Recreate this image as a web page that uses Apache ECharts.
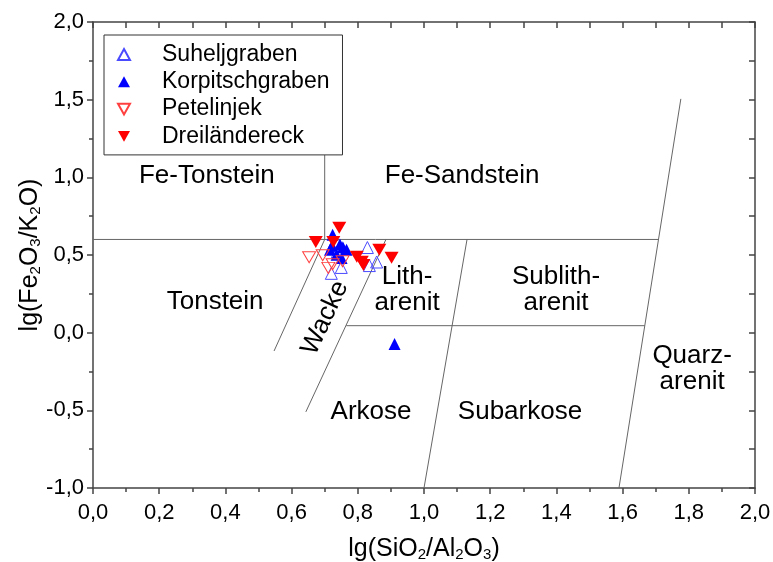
<!DOCTYPE html>
<html>
<head>
<meta charset="utf-8">
<script src="https://cdn.jsdelivr.net/npm/echarts@6/dist/echarts.min.js"></script>
<style>
html,body{margin:0;padding:0;background:#fff;}
#chart{width:773px;height:562px;}
</style>
</head>
<body>
<div id="chart"></div>
<script>
// ---- sample data (x = lg(SiO2/Al2O3), y = lg(Fe2O3/K2O)) ----
const suheljgraben = [[0.829,0.548],[0.857,0.455],[0.835,0.432],[0.720,0.382],[0.750,0.420],[0.738,0.520]];
const korpitschgraben = [[0.724,0.631],[0.716,0.534],[0.746,0.567],[0.766,0.534],[0.736,0.502],[0.751,0.481],[0.722,0.560],[0.755,0.550],[0.911,-0.073]];
const petelinjek = [[0.653,0.485],[0.694,0.498],[0.711,0.417],[0.754,0.460],[0.724,0.440]];
const dreilaendereck = [[0.744,0.675],[0.673,0.584],[0.726,0.584],[0.797,0.489],[0.812,0.457],[0.817,0.436],[0.865,0.533],[0.902,0.483]];

// ---- classification field boundaries (Herron 1988) ----
const lineFeSplit = [[0,0.6],[1.708,0.6]];
const lineFeVertical = [[0.70,0.6],[0.70,1.2]];
const lineWackeLeft = [[0.547,-0.118],[0.70,0.6]];
const lineWackeRight = [[0.643,-0.51],[0.885,0.6]];
const lineArkoseSplit = [[0.765,0.045],[1.667,0.045]];
const lineSubarkose = [[1.0,-1.0],[1.13,0.6]];
const lineQuarz = [[1.589,-1.0],[1.776,1.505]];
const boundaryLines = [lineFeSplit,lineFeVertical,lineWackeLeft,lineWackeRight,lineArkoseSplit,lineSubarkose,lineQuarz];

// ---- field labels ----
const fieldNames = ['Fe-Tonstein','Fe-Sandstein','Tonstein','Wacke','Lith-\narenit','Sublith-\narenit','Arkose','Subarkose','Quarz-\narenit'];
const fieldX = [0.344,1.115,0.369,0.701,0.949,1.399,0.840,1.290,1.810];
const fieldY = [1.010,1.010,0.197,0.095,0.275,0.275,-0.510,-0.510,-0.235];
const fieldRotate = [0,0,0,65,0,0,0,0,0];

// ---- axis ----
const xMin = 0, xMax = 2, xStep = 0.2;
const yMin = -1, yMax = 2, yStep = 0.5;

const fmt = v => v.toFixed(1).replace('.', ',');
const FONT = 'Liberation Sans, Arial, sans-serif';
const axisColor = '#444';

const downTri = 'path://M0,0 L10,0 L5,9 Z';

const series = [];
boundaryLines.forEach(seg => {
  series.push({
    type: 'line', data: seg, symbol: 'none', silent: true,
    lineStyle: {color: '#666', width: 1}, z: 1, legendHoverLink: false
  });
});
series.push({
  type: 'scatter', silent: true, symbolSize: 1, itemStyle: {color: 'rgba(0,0,0,0)', opacity: 1}, z: 2,
  data: fieldNames.map((n, i) => ({
    name: n, value: [fieldX[i], fieldY[i]],
    label: {rotate: fieldRotate[i]}
  })),
  label: {show: true, position: 'inside', formatter: '{b}', fontSize: 26, lineHeight: 26,
    color: '#000', opacity: 1, fontFamily: FONT, align: 'center', verticalAlign: 'middle'}
});
series.push({
  name: 'Suheljgraben', type: 'scatter', data: suheljgraben, symbol: 'triangle', symbolSize: 12, z: 3,
  itemStyle: {color: 'rgba(255,255,255,0)', borderColor: '#4a4aff', borderWidth: 1, opacity: 1}
});
series.push({
  name: 'Korpitschgraben', type: 'scatter', data: korpitschgraben, symbol: 'triangle', symbolSize: 12, z: 4,
  itemStyle: {color: '#0000ff', opacity: 1}
});
series.push({
  name: 'Petelinjek', type: 'scatter', data: petelinjek, symbol: downTri, symbolSize: [13,11], z: 5,
  itemStyle: {color: 'rgba(255,255,255,0)', borderColor: '#ff4040', borderWidth: 1, opacity: 1}
});
series.push({
  name: 'Dreiländereck', type: 'scatter', data: dreilaendereck, symbol: downTri, symbolSize: [14,12], z: 6,
  itemStyle: {color: '#ff0000', opacity: 1}
});

const nameRich = {
  n: {fontSize: 25, fontFamily: FONT, color: '#000', lineHeight: 28, verticalAlign: 'bottom'},
  s: {fontSize: 15, fontFamily: FONT, color: '#000', lineHeight: 12, verticalAlign: 'bottom'}
};

const chart = echarts.init(document.getElementById('chart'), null, {renderer: 'canvas'});
chart.setOption({
  animation: false,
  backgroundColor: '#fff',
  grid: {left: 93, top: 22, right: 18, bottom: 74, containLabel: false, outerBoundsMode: 'none'},
  legend: {
    data: ['Suheljgraben','Korpitschgraben','Petelinjek','Dreiländereck'],
    orient: 'vertical', left: 104, top: 35,
    backgroundColor: '#fff', borderColor: '#333', borderWidth: 1,
    padding: [8, 13, 7, 13], itemGap: 4.3, itemWidth: 12, itemHeight: 11,
    textStyle: {fontSize: 23, fontFamily: FONT, color: '#000', lineHeight: 22, padding: [0,0,0,27]},
    selectedMode: false
  },
  xAxis: [{
    type: 'value', min: xMin, max: xMax, interval: xStep, position: 'bottom',
    axisLine: {show: true, onZero: false, lineStyle: {color: axisColor, width: 1.5}},
    axisTick: {show: true, inside: false, length: 6, lineStyle: {color: axisColor, width: 1.5}},
    minorTick: {show: true, splitNumber: 2, length: 4, lineStyle: {color: axisColor, width: 1.5}},
    axisLabel: {fontSize: 22, fontFamily: FONT, color: '#000', margin: 14, formatter: fmt},
    splitLine: {show: false},
    name: '{n|lg(SiO}{s|2}{n|/Al}{s|2}{n|O}{s|3}{n|)}',
    nameLocation: 'middle', nameGap: 46, nameMoveOverlap: false,
    nameTextStyle: {rich: nameRich}
  }, {
    type: 'value', min: xMin, max: xMax, interval: 0.1, position: 'top',
    axisLine: {show: true, onZero: false, lineStyle: {color: axisColor, width: 1.5}},
    axisTick: {show: true, inside: true, length: 6, lineStyle: {color: axisColor, width: 1.5}},
    axisLabel: {show: false}, splitLine: {show: false}
  }],
  yAxis: [{
    type: 'value', min: yMin, max: yMax, interval: yStep, position: 'left',
    axisLine: {show: true, onZero: false, lineStyle: {color: axisColor, width: 1.5}},
    axisTick: {show: true, inside: false, length: 6, lineStyle: {color: axisColor, width: 1.5}},
    minorTick: {show: true, splitNumber: 2, length: 4, lineStyle: {color: axisColor, width: 1.5}},
    axisLabel: {fontSize: 22, fontFamily: FONT, color: '#000', margin: 9, formatter: fmt},
    splitLine: {show: false},
    name: '{n|lg(Fe}{s|2}{n|O}{s|3}{n|/K}{s|2}{n|O)}',
    nameLocation: 'middle', nameGap: 50, nameMoveOverlap: false,
    nameTextStyle: {rich: nameRich}
  }, {
    type: 'value', min: yMin, max: yMax, interval: 0.25, position: 'right',
    axisLine: {show: true, onZero: false, lineStyle: {color: axisColor, width: 1.5}},
    axisTick: {show: true, inside: true, length: 6, lineStyle: {color: axisColor, width: 1.5}},
    axisLabel: {show: false}, splitLine: {show: false}
  }],
  series: series
});
</script>
</body>
</html>
